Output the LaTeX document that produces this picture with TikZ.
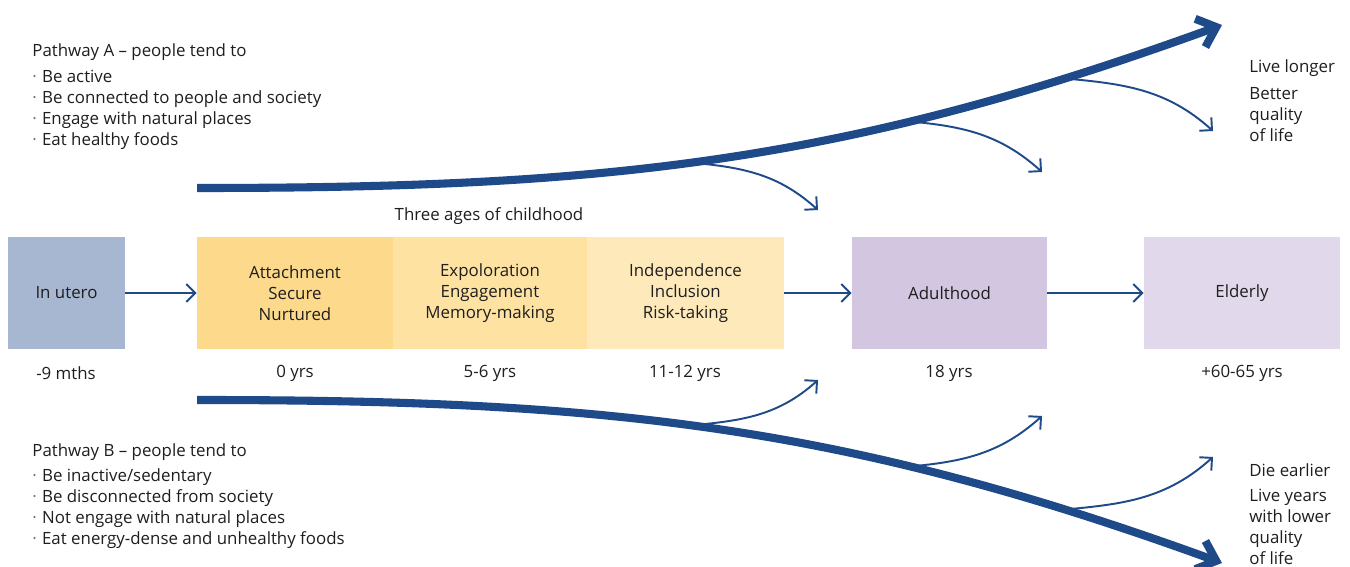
\documentclass[tikz,border=0pt]{standalone}
\usepackage{fontspec}
\setmainfont{Open Sans}
\usetikzlibrary{arrows.meta}

\definecolor{pathblue}{HTML}{1F4A8A}
\definecolor{uterofill}{HTML}{A7B6D1}
\definecolor{attachfill}{HTML}{FDDA8B}
\definecolor{explorefill}{HTML}{FEE2A2}
\definecolor{indepfill}{HTML}{FEE9BA}
\definecolor{adultfill}{HTML}{D3C6E1}
\definecolor{elderfill}{HTML}{E1D9EB}
\definecolor{inkgrey}{HTML}{1E1E1E}

\newcommand{\blt}{\textcolor{black!55}{\textperiodcentered}\hspace{3pt}}

\begin{document}
\begin{tikzpicture}[x=0.02cm, y=0.02cm,
    font=\fontsize{9.6}{11.9}\selectfont, text=inkgrey,
    stage/.style={inner sep=0pt, minimum height=2.24cm, align=center},
    age/.style={inner sep=0pt},
    note/.style={anchor=west, align=left, inner sep=0pt},
    flow/.style={draw=pathblue, line width=1.1pt, -{Straight Barb[length=1.8mm,width=3.6mm]}},
    pathway/.style={draw=pathblue, line width=4.6pt, -{Straight Barb[length=3.4mm,width=6mm]}}]
    \useasboundingbox (0,0) rectangle (1350,-567);

    % Draw the life stages
    \node[stage, fill=uterofill, minimum width=2.34cm] (utero) at (66.5,-293) {In utero};
    \node[stage, fill=attachfill, minimum width=3.92cm] (attach) at (295,-293) {Attachment\\Secure\\Nurtured};
    \node[stage, fill=explorefill, minimum width=3.88cm] (explore) at (490,-293) {Expoloration\\Engagement\\Memory-making};
    \node[stage, fill=indepfill, minimum width=3.94cm] (indep) at (685.5,-293) {Independence\\Inclusion\\Risk-taking};
    \node[stage, fill=adultfill, minimum width=3.9cm] (adult) at (949.5,-293) {Adulthood};
    \node[stage, fill=elderfill, minimum width=3.92cm] (elder) at (1242,-293) {Elderly};

    \node[age] (childhood) at (489,-216) {Three ages of childhood};

    % Ages under the boxes
    \node[age] (uteroage) at (66,-373) {-9 mths};
    \node[age] (attachage) at (295,-373) {0 yrs};
    \node[age] (exploreage) at (490,-373) {5-6 yrs};
    \node[age] (indepage) at (685,-373) {11-12 yrs};
    \node[age] (adultage) at (949,-373) {18 yrs};
    \node[age] (elderage) at (1242,-373) {+60-65 yrs};

    % Flow between stages
    \draw[flow] (utero) -- (attach);
    \draw[flow] (indep) -- (adult);
    \draw[flow] (adult) -- (elder);

    % Pathway A (upper)
    \coordinate (aStart) at (197,-188);
    \coordinate (aEnd) at (1222,-25);
    \draw[pathway] (aStart) to[out=0,in=200]
        coordinate[pos=0.47] (a1) coordinate[pos=0.70] (a2) coordinate[pos=0.855] (a3) (aEnd);
    \coordinate (a1end) at (818,-210);
    \coordinate (a2end) at (1042,-172);
    \coordinate (a3end) at (1213,-131);
    \draw[flow] (a1) to[out=-5,in=138] (a1end);
    \draw[flow] (a2) to[out=-5,in=138] (a2end);
    \draw[flow] (a3) to[out=-5,in=138] (a3end);

    % Pathway B (lower)
    \coordinate (bStart) at (197,-400);
    \coordinate (bEnd) at (1222,-563);
    \draw[pathway] (bStart) to[out=0,in=160]
        coordinate[pos=0.47] (b1) coordinate[pos=0.70] (b2) coordinate[pos=0.855] (b3) (bEnd);
    \coordinate (b1end) at (818,-380);
    \coordinate (b2end) at (1042,-416);
    \coordinate (b3end) at (1213,-457);
    \draw[flow] (b1) to[out=5,in=-138] (b1end);
    \draw[flow] (b2) to[out=5,in=-138] (b2end);
    \draw[flow] (b3) to[out=5,in=-138] (b3end);

    % Pathway texts
    \node[note] (pathA) at (32,-52) {Pathway A -- people tend to};
    \node[note] (listA) at (32,-109.5) {\blt Be active\\\blt Be connected to people and society\\\blt Engage with natural places\\\blt Eat healthy foods};
    \node[note] (pathB) at (32,-452) {Pathway B -- people tend to};
    \node[note] (listB) at (32,-508.5) {\blt Be inactive/sedentary\\\blt Be disconnected from society\\\blt Not engage with natural places\\\blt Eat energy-dense and unhealthy foods};

    % Outcomes
    \node[note] (longer) at (1249,-68) {Live longer};
    \node[note] (better) at (1249,-114.5) {Better\\quality\\of life};
    \node[note] (earlier) at (1249,-470) {Die earlier};
    \node[note] (lower) at (1249,-527) {Live years\\with lower\\quality\\of life};
\end{tikzpicture}
\end{document}
